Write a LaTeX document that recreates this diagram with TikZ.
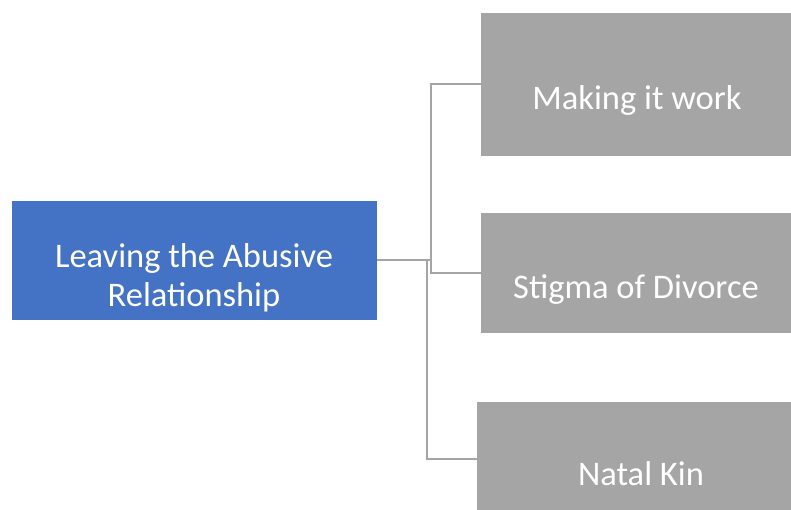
\documentclass[tikz,border=0pt]{standalone}
\usepackage{fontspec}
\setmainfont{Carlito}
\definecolor{topicblue}{HTML}{4472C4}
\definecolor{subgray}{HTML}{A5A5A5}
\definecolor{linkgray}{HTML}{A5A5A5}
\tikzset{
  rootbox/.style={fill=topicblue, draw=none},
  leafbox/.style={fill=subgray, draw=none},
  boxtext/.style={text=white, font=\fontsize{34.5}{39}\selectfont, align=center, inner sep=0pt},
  link/.style={draw=linkgray, line width=2.6pt}
}
\begin{document}
\begin{tikzpicture}[x=1pt, y=-1pt]
  \useasboundingbox (0,0) rectangle (791,510);
  % boxes
  \fill[rootbox] (12,201) rectangle (377,320);
  \fill[leafbox] (481,13) rectangle (791,156);
  \fill[leafbox] (481,213) rectangle (791,333);
  \fill[leafbox] (477,402) rectangle (791,510);
  % anchors for the connectors
  \coordinate (rootR) at (377,260);
  \coordinate (joinB) at (431,260);
  \coordinate (joinC) at (427,260);
  \coordinate (leafA) at (481,84);
  \coordinate (leafB) at (481,273);
  \coordinate (leafC) at (477,459);
  % labels
  \node[boxtext] (root) at (194,278) {Leaving the Abusive\\Relationship};
  \node[boxtext] (making) at (637,100) {Making it work};
  \node[boxtext] (stigma) at (636,289.5) {Stigma of Divorce};
  \node[boxtext] (natal) at (641,474) {Natal Kin};
  % elbow connectors
  \draw[link] (rootR) -- (joinB);
  \draw[link] (leafA) -- (joinB |- leafA) -- (joinB |- leafB) -- (leafB);
  \draw[link] (joinC) -- (joinC |- leafC) -- (leafC);
\end{tikzpicture}
\end{document}
